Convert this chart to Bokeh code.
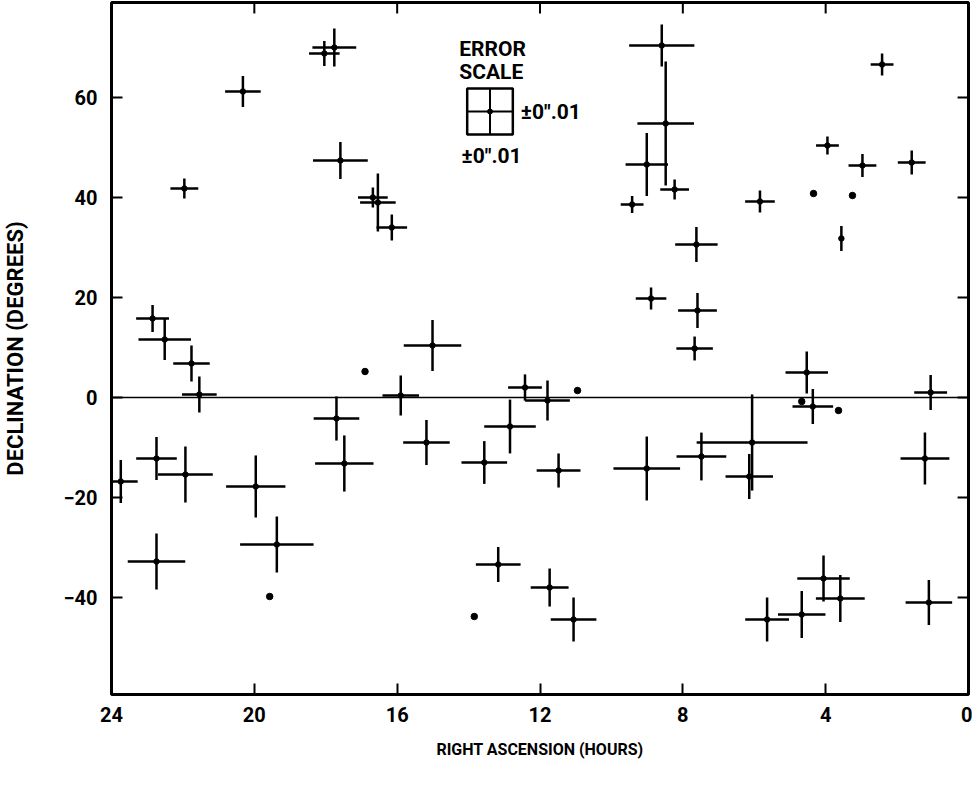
from bokeh.plotting import figure
from bokeh.models import Range1d, FixedTicker, Span
from bokeh.core.properties import value
from bokeh.embed import file_html
from bokeh.resources import INLINE

# ---- data: sources with position errors (RA in hours, Dec in degrees, errors in mas)
ra = [18.04, 17.76, 20.32, 17.59, 21.96, 16.68, 16.54, 16.15, 8.59, 8.48, 9.01, 8.23, 9.42,
      2.42, 3.95, 2.97, 1.59, 5.84, 22.85, 22.51, 21.76, 21.54, 17.70, 15.01, 15.90, 15.18,
      8.89, 12.42, 11.79, 12.84, 7.62, 7.59, 7.67, 3.56, 4.53, 4.36, 1.06, 7.48, 6.06, 6.14,
      1.22, 23.74, 22.74, 21.93, 19.96, 17.48, 22.74, 19.37, 13.56, 11.48, 9.01, 13.17, 11.73,
      11.06, 4.06, 3.59, 4.67, 5.64, 1.11]
dec = [68.8, 70.0, 61.2, 47.4, 41.8, 40.0, 39.0, 34.0, 70.4, 54.8, 46.6, 41.6, 38.6,
       66.6, 50.4, 46.4, 47.0, 39.2, 15.8, 11.6, 6.8, 0.6, -4.2, 10.4, 0.4, -9.0,
       19.8, 2.0, -0.6, -5.8, 30.6, 17.4, 9.8, 31.8, 5.0, -1.8, 1.0, -11.8, -9.0, -15.8,
       -12.2, -16.8, -12.2, -15.4, -17.8, -13.2, -32.8, -29.4, -13.0, -14.6, -14.2, -33.4, -38.0,
       -44.4, -36.2, -40.2, -43.4, -44.4, -41.0]
err_ra = [6.7, 9.6, 7.8, 12.0, 6.1, 6.5, 7.8, 6.7, 14.3, 12.4, 9.3, 6.3, 5.0,
          5.0, 5.0, 6.1, 6.1, 6.5, 7.2, 11.5, 8.0, 7.6, 10.0, 12.6, 8.0, 10.2,
          6.7, 7.4, 9.8, 11.3, 9.3, 8.5, 8.0, 0.8, 9.3, 8.9, 7.2, 10.9, 24.3, 10.4,
          10.7, 7.4, 8.9, 12.0, 13.0, 12.8, 12.6, 16.1, 10.0, 9.6, 14.6, 9.8, 8.3,
          10.0, 11.5, 10.7, 10.4, 9.6, 10.2]
err_dec = [5.4, 8.3, 6.7, 8.0, 4.3, 4.3, 12.6, 5.7, 9.1, 27.0, 13.7, 4.3, 3.7,
           4.8, 3.9, 5.0, 5.2, 4.8, 5.9, 8.9, 7.8, 7.8, 9.6, 11.1, 8.7, 9.8,
           4.8, 5.7, 8.7, 11.7, 7.6, 7.6, 5.2, 5.4, 9.1, 7.6, 7.6, 10.4, 20.9, 9.8,
           11.3, 9.3, 9.3, 12.2, 13.5, 12.2, 12.2, 12.2, 9.3, 7.4, 13.9, 7.6, 8.3,
           9.6, 10.0, 10.2, 10.2, 9.6, 9.8]

# sources plotted without error bars
dot_ra = [4.34, 3.25, 16.90, 10.95, 4.67, 3.64, 19.57, 13.84]
dot_dec = [40.8, 40.4, 5.2, 1.4, -0.8, -2.6, -39.8, -43.8]

x_ticks = [24, 20, 16, 12, 8, 4, 0]
y_ticks = [60, 40, 20, 0, -20, -40]
scale_mas = 10  # error scale: +/- 0".01
scale_label = "\u00b10\u2033.01"

# conversion of an error (mas) into plot units
MAS_TO_HOUR = 0.0639
MAS_TO_DEG = 0.46

X_START, X_END = 24, 0
Y_START, Y_END = -59.4, 79.0
W, H = 972, 776
BL, BR, BT, BB = 104, 4, 2, 82
FRAME_W = W - BL - BR
FRAME_H = H - BT - BB
TICK_PX = 11

FONT = "Roboto"

p = figure(width=W, height=H, x_range=Range1d(X_START, X_END), y_range=Range1d(Y_START, Y_END),
           output_backend="svg", toolbar_location=None,
           min_border_left=BL, min_border_right=BR, min_border_top=BT, min_border_bottom=BB,
           background_fill_color="white", border_fill_color="white")
p.xgrid.visible = False
p.ygrid.visible = False
p.outline_line_color = "black"
p.outline_line_width = 3

for ax, ticks in ((p.xaxis[0], x_ticks), (p.yaxis[0], y_ticks)):
    ax.ticker = FixedTicker(ticks=ticks)
    ax.axis_line_color = None
    ax.major_tick_in = TICK_PX
    ax.major_tick_out = 0
    ax.major_tick_line_width = 2
    ax.minor_tick_line_color = None
    ax.major_label_text_font = FONT
    ax.major_label_text_font_style = "bold"
    ax.major_label_text_font_size = "20px"
    ax.major_label_text_color = "black"
    ax.axis_label_text_font = FONT
    ax.axis_label_text_font_style = "bold"
    ax.axis_label_text_color = "black"

p.xaxis[0].axis_label = "RIGHT ASCENSION (HOURS)"
p.xaxis[0].axis_label_text_font_size = "16px"
p.xaxis[0].major_label_standoff = 12
p.xaxis[0].axis_label_standoff = 15
p.yaxis[0].axis_label = "DECLINATION (DEGREES)"
p.yaxis[0].axis_label_text_font_size = "22px"
p.yaxis[0].major_label_standoff = 14
p.yaxis[0].axis_label_standoff = 32

# inward ticks on the top and right edges of the frame
tick_dy = TICK_PX * (Y_END - Y_START) / FRAME_H
tick_dx = TICK_PX * (X_START - X_END) / FRAME_W
p.segment(x0=x_ticks, y0=[Y_END] * len(x_ticks), x1=x_ticks, y1=[Y_END - tick_dy] * len(x_ticks),
          line_color="black", line_width=2)
p.segment(x0=[X_END] * len(y_ticks), y0=y_ticks, x1=[X_END + tick_dx] * len(y_ticks), y1=y_ticks,
          line_color="black", line_width=2)

p.add_layout(Span(location=0, dimension="width", line_color="black", line_width=1.5))

# error crosses
hx0 = [r - e * MAS_TO_HOUR for r, e in zip(ra, err_ra)]
hx1 = [r + e * MAS_TO_HOUR for r, e in zip(ra, err_ra)]
vy0 = [d - e * MAS_TO_DEG for d, e in zip(dec, err_dec)]
vy1 = [d + e * MAS_TO_DEG for d, e in zip(dec, err_dec)]
p.segment(x0=hx0, y0=dec, x1=hx1, y1=dec, line_color="black", line_width=2.5)
p.segment(x0=ra, y0=vy0, x1=ra, y1=vy1, line_color="black", line_width=2.5)
p.scatter(ra, dec, size=5.5, color="black")
p.scatter(dot_ra, dot_dec, size=6.5, color="black")

# error scale key
key_ra, key_dec = 13.40, 57.2
kw = scale_mas * MAS_TO_HOUR
kh = scale_mas * MAS_TO_DEG
p.rect(x=[key_ra], y=[key_dec], width=2 * kw, height=2 * kh, fill_color=None,
       line_color="black", line_width=2.5)
p.segment(x0=[key_ra - kw], y0=[key_dec], x1=[key_ra + kw], y1=[key_dec], line_color="black", line_width=2)
p.segment(x0=[key_ra], y0=[key_dec - kh], x1=[key_ra], y1=[key_dec + kh], line_color="black", line_width=2)
p.scatter([key_ra], [key_dec], size=5, color="black")

p.text(x=[14.26, 14.26], y=[69.8, 65.2], text=["ERROR", "SCALE"], text_font=value(FONT),
       text_font_size="21px", text_font_style="bold", text_align="left", text_baseline="middle",
       text_color="black")
p.text(x=[12.54, 14.20], y=[57.2, 48.4], text=[scale_label, scale_label], text_font=value(FONT),
       text_font_size="21px", text_font_style="bold", text_align="left", text_baseline="middle",
       text_color="black")

open("out.html", "w").write(file_html(p, INLINE))
